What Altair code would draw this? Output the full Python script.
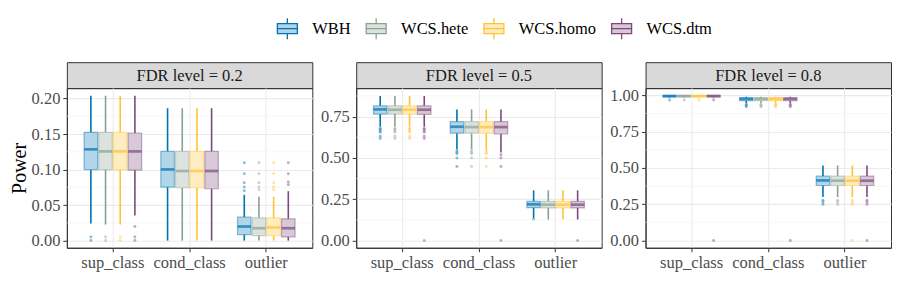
import altair as alt
import pandas as pd

FONT = "Liberation Serif"

methods = ["WBH", "WCS.hete", "WCS.homo", "WCS.dtm"]
line_colors = ["#0072B2", "#89A191", "#FFC233", "#7B4A7A"]
fill_colors = ["#B3D5E8", "#DCE3DE", "#FFEDC2", "#D7C9D7"]
categories = ["sup_class", "cond_class", "outlier"]
fdr_levels = ["0.2", "0.5", "0.8"]

# [lower whisker, q1, median, q3, upper whisker] for each method (in order), per category
stats_02 = {
    "sup_class": [[0.024, 0.100, 0.1285, 0.1525, 0.204], [0.0226, 0.100, 0.1256, 0.1525, 0.204],
                  [0.0226, 0.100, 0.1256, 0.1525, 0.204], [0.0353, 0.0993, 0.1256, 0.1515, 0.204]],
    "cond_class": [[0.0, 0.0753, 0.1002, 0.1256, 0.1864], [0.0, 0.0744, 0.098, 0.1256, 0.1864],
                   [0.0, 0.0744, 0.098, 0.1256, 0.1864], [0.0, 0.073, 0.098, 0.1256, 0.1864]],
    "outlier": [[0.0, 0.0085, 0.0198, 0.0329, 0.0645], [0.0, 0.0071, 0.0174, 0.032, 0.0616],
                [0.0, 0.0071, 0.0184, 0.032, 0.0616], [0.0, 0.0052, 0.0174, 0.0306, 0.0696]],
}
outliers_02 = {
    "sup_class": [[0.005, 0.0], [0.005, 0.0], [0.005, 0.0], [0.0198, 0.005, 0.0]],
    "cond_class": [[], [], [], []],
    "outlier": [[0.1096, 0.0941, 0.0814, 0.0753, 0.0701], [0.1096, 0.0941, 0.0814, 0.0753, 0.0715],
                [0.1096, 0.0941, 0.0814, 0.0753, 0.0715], [0.1096, 0.0941, 0.0824, 0.0786]],
}

stats_05 = {
    "sup_class": [[0.689, 0.766, 0.794, 0.816, 0.875], [0.689, 0.766, 0.792, 0.816, 0.875],
                  [0.689, 0.766, 0.792, 0.816, 0.875], [0.689, 0.764, 0.792, 0.816, 0.875]],
    "cond_class": [[0.553, 0.650, 0.689, 0.720, 0.794], [0.553, 0.650, 0.687, 0.720, 0.794],
                   [0.553, 0.650, 0.687, 0.720, 0.794], [0.533, 0.645, 0.687, 0.720, 0.794]],
    "outlier": [[0.137, 0.199, 0.219, 0.237, 0.304], [0.127, 0.197, 0.217, 0.237, 0.304],
                [0.127, 0.197, 0.217, 0.237, 0.304], [0.127, 0.197, 0.217, 0.237, 0.304]],
}
outliers_05 = {
    "sup_class": [[0.680, 0.672, 0.664, 0.656, 0.632, 0.618], [0.680, 0.672, 0.664, 0.656, 0.632, 0.618],
                  [0.680, 0.672, 0.664, 0.656, 0.632, 0.618], [0.680, 0.672, 0.664, 0.656, 0.632, 0.618, 0.0]],
    "cond_class": [[0.545, 0.535, 0.525, 0.499, 0.448], [0.545, 0.535, 0.525, 0.499, 0.448],
                   [0.545, 0.535, 0.525, 0.499, 0.448], [0.519, 0.499, 0.448, 0.0]],
    "outlier": [[0.130], [], [], [0.0]],
}

stats_08 = {
    "sup_class": [[0.985, 0.990, 0.995, 1.0, 1.0], [0.985, 0.990, 0.995, 1.0, 1.0],
                  [0.985, 0.990, 0.995, 1.0, 1.0], [0.985, 0.990, 0.995, 1.0, 1.0]],
    "cond_class": [[0.945, 0.963, 0.975, 0.984, 0.991], [0.945, 0.963, 0.975, 0.984, 0.991],
                   [0.945, 0.963, 0.975, 0.984, 0.991], [0.945, 0.963, 0.975, 0.984, 0.991]],
    "outlier": [[0.299, 0.379, 0.414, 0.443, 0.517], [0.299, 0.379, 0.412, 0.443, 0.517],
                [0.299, 0.379, 0.412, 0.443, 0.517], [0.299, 0.379, 0.412, 0.443, 0.517]],
}
outliers_08 = {
    "sup_class": [[0.968], [0.968], [0.968], [0.968, 0.0]],
    "cond_class": [[0.938, 0.930, 0.922], [0.938, 0.930, 0.922], [0.938, 0.930, 0.922], [0.938, 0.930, 0.922, 0.0]],
    "outlier": [[0.278, 0.265, 0.250], [0.278, 0.265, 0.250], [0.278, 0.265, 0.250, 0.0], [0.278, 0.265, 0.250, 0.0]],
}

all_stats = [stats_02, stats_05, stats_08]
all_outliers = [outliers_02, outliers_05, outliers_08]
y_domains = [[-0.0101, 0.2147], [-0.044, 0.923], [-0.05, 1.05]]
major_ticks = [[0.0, 0.05, 0.10, 0.15, 0.20], [0.0, 0.25, 0.50, 0.75], [0.0, 0.25, 0.50, 0.75, 1.0]]
minor_ticks = [[0.025, 0.075, 0.125, 0.175], [0.125, 0.375, 0.625, 0.875], [0.125, 0.375, 0.625, 0.875]]

PW, PH, SH = 246, 160, 26
BOXW = 13.5

box_symbol = "M-1,-0.5H1V0.5H-1Z M-1,0H1 M0,-0.5V-1.05 M0,0.5V1.05"
legend_spec = alt.Legend(
    title=None, orient="none", direction="horizontal", legendX=210, legendY=-45,
    symbolType=box_symbol, symbolSize=400, symbolStrokeWidth=1.3,
    labelFont=FONT, labelFontSize=16.5, labelColor="black", labelOffset=14, columnPadding=12,
)


def frames(stats, outl):
    rows, orows = [], []
    for c in categories:
        for m, s, o in zip(methods, stats[c], outl[c]):
            rows.append(dict(category=c, method=m, lo=s[0], q1=s[1], med=s[2], q3=s[3], hi=s[4]))
            for v in o:
                orows.append(dict(category=c, method=m, v=v))
    return pd.DataFrame(rows), pd.DataFrame(orows)


def make_plot(i):
    box_df, out_df = frames(all_stats[i], all_outliers[i])
    yscale = alt.Scale(domain=y_domains[i], nice=False, zero=False)
    yaxis = alt.Axis(values=major_ticks[i], format=".2f", title="Power" if i == 0 else None,
                     grid=True)
    xenc = alt.X("category:N", sort=categories,
                 scale=alt.Scale(domain=categories, paddingInner=0.25, paddingOuter=0.225),
                 axis=alt.Axis(title=None, bandPosition=0.5, grid=True, labelAngle=0))
    xoff = alt.XOffset("method:N", sort=methods, scale=alt.Scale(domain=methods, paddingInner=0.08))
    fill_enc = alt.Fill("method:N", sort=methods, scale=alt.Scale(domain=methods, range=fill_colors),
                        legend=legend_spec)
    stroke_enc = alt.Stroke("method:N", sort=methods, scale=alt.Scale(domain=methods, range=line_colors),
                            legend=legend_spec)
    color_enc = alt.Color("method:N", sort=methods, scale=alt.Scale(domain=methods, range=line_colors),
                          legend=None)

    minor = alt.Chart(pd.DataFrame({"v": minor_ticks[i]})).mark_rule(
        color="#F2F2F2", strokeWidth=0.6).encode(y=alt.Y("v:Q", scale=yscale, axis=yaxis))
    base = alt.Chart(box_df)
    w_low = base.mark_rule(strokeWidth=1.6).encode(
        x=xenc, xOffset=xoff, y=alt.Y("lo:Q", scale=yscale, axis=yaxis), y2="q1:Q", stroke=stroke_enc)
    w_high = base.mark_rule(strokeWidth=1.6).encode(
        x=xenc, xOffset=xoff, y=alt.Y("q3:Q", scale=yscale, axis=yaxis), y2="hi:Q", stroke=stroke_enc)
    box_fill = base.mark_bar(strokeWidth=0).encode(
        x=xenc, xOffset=xoff, y=alt.Y("q1:Q", scale=yscale, axis=yaxis), y2="q3:Q", fill=fill_enc)
    box_line = base.mark_bar(fillOpacity=0, strokeOpacity=0.45, strokeWidth=1.2).encode(
        x=xenc, xOffset=xoff, y=alt.Y("q1:Q", scale=yscale, axis=yaxis), y2="q3:Q", stroke=stroke_enc)
    median = base.mark_tick(thickness=2.7, size=BOXW).encode(
        x=xenc, xOffset=xoff, y=alt.Y("med:Q", scale=yscale, axis=yaxis), color=color_enc)
    pts = alt.Chart(out_df).mark_circle(size=9, opacity=0.45).encode(
        x=xenc, xOffset=xoff, y=alt.Y("v:Q", scale=yscale, axis=yaxis), color=color_enc)

    return alt.layer(minor, w_low, w_high, box_fill, box_line, median, pts).properties(width=PW, height=PH)


def make_strip(i):
    return alt.Chart(pd.DataFrame({"label": [f"FDR level = {fdr_levels[i]}"]})).mark_text(
        font=FONT, fontSize=16.5, color="#1A1A1A").encode(
        text="label:N", x=alt.value(PW / 2), y=alt.value(SH / 2 + 1)).properties(
        width=PW, height=SH, view=alt.ViewBackground(fill="#D9D9D9", stroke="#333333", strokeWidth=1))


cells = [make_strip(i) for i in range(3)] + [make_plot(i) for i in range(3)]
chart = alt.concat(*cells, columns=3, spacing=alt.RowColnumber(row=0, column=44), bounds="flush").resolve_scale(
    y="independent", x="independent"
).properties(
    padding={"left": 0, "top": 9, "right": 0, "bottom": 0}
).configure_view(stroke="#333333", strokeWidth=1).configure_axis(
    labelFont=FONT, labelFontSize=16.5, labelColor="#4D4D4D", tickColor="#333333", tickSize=4,
    labelPadding=3, domainColor="#333333", gridColor="#EBEBEB", gridWidth=1.1,
    titleFont=FONT, titleFontSize=20, titleFontWeight="normal", titleColor="black", titlePadding=2,
)

chart.save("out.html", embed_options={"renderer": "svg", "actions": False})
